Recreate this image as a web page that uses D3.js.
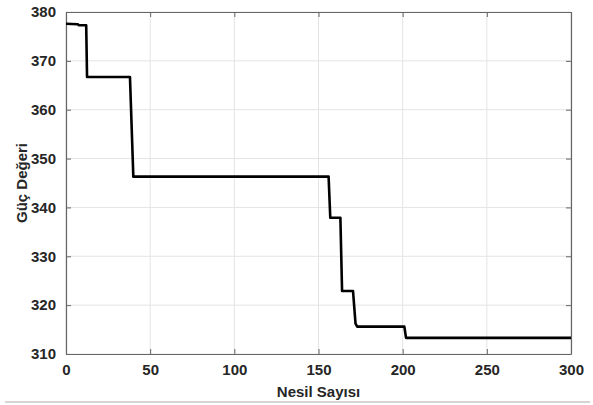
<html lang="tr">
<head>
    <meta charset="UTF-8">
    <script src="https://d3js.org/d3.v7.min.js"></script>
    <style>
        body { margin: 0; background: #fff; }
    </style>
</head>
<body>
    <script type="text/javascript">

        // step curve corners
        let nesil = [0, 7, 7.5, 12, 12.5, 38, 40, 156, 157, 163, 164, 170.5, 172, 173, 201, 202, 300];
        let guc = [377.6, 377.5, 377.3, 377.3, 366.7, 366.7, 346.3, 346.3, 337.9, 337.9, 322.9, 322.9, 316.2, 315.6, 315.6, 313.3, 313.3];

        let xTicks = [0, 50, 100, 150, 200, 250, 300];
        let yTicks = [310, 320, 330, 340, 350, 360, 370, 380];

        let width = 593;
        let height = 405;
        let mLeft = 66, mRight = 571, mTop = 12, mBottom = 354;

        let svg = d3.select('body')
            .append('svg')
            .attr('width', width)
            .attr('height', height);

        let x = d3.scaleLinear().domain([0, 300]).range([mLeft, mRight]);
        let y = d3.scaleLinear().domain([310, 380]).range([mBottom, mTop]);

        // grid
        svg.append('g')
            .selectAll('line')
            .data(xTicks)
            .join('line')
            .attr('x1', d => x(d)).attr('x2', d => x(d))
            .attr('y1', mTop).attr('y2', mBottom)
            .attr('stroke', '#e4e4e4');

        svg.append('g')
            .selectAll('line')
            .data(yTicks)
            .join('line')
            .attr('x1', mLeft).attr('x2', mRight)
            .attr('y1', d => y(d)).attr('y2', d => y(d))
            .attr('stroke', '#e4e4e4');

        // axes, ticks inside
        let axisColor = '#666';
        let xb = svg.append('g')
            .attr('transform', `translate(0,${mBottom})`)
            .call(d3.axisBottom(x).tickValues(xTicks).tickSizeInner(-5).tickSizeOuter(0).tickPadding(10));
        let xt = svg.append('g')
            .attr('transform', `translate(0,${mTop})`)
            .call(d3.axisTop(x).tickValues(xTicks).tickSizeInner(-5).tickSizeOuter(0).tickFormat(''));
        let yl = svg.append('g')
            .attr('transform', `translate(${mLeft},0)`)
            .call(d3.axisLeft(y).tickValues(yTicks).tickSizeInner(-5).tickSizeOuter(0).tickPadding(10));
        let yr = svg.append('g')
            .attr('transform', `translate(${mRight},0)`)
            .call(d3.axisRight(y).tickValues(yTicks).tickSizeInner(-5).tickSizeOuter(0).tickFormat(''));

        [xb, xt, yl, yr].forEach(g => {
            g.select('.domain').attr('stroke', axisColor).attr('stroke-width', 1.2);
            g.selectAll('.tick line').attr('stroke', axisColor);
            g.selectAll('text')
                .attr('font-family', '"Liberation Sans", Arial, sans-serif')
                .attr('font-weight', 'bold')
                .attr('font-size', 15)
                .attr('fill', '#262626');
        });

        // curve
        let points = nesil.map((n, i) => [n, guc[i]]);
        svg.append('path')
            .datum(points)
            .attr('fill', 'none')
            .attr('stroke', '#000')
            .attr('stroke-width', 2.6)
            .attr('stroke-linejoin', 'round')
            .attr('d', d3.line().x(d => x(d[0])).y(d => y(d[1])));

        // axis titles
        svg.append('text')
            .attr('x', (mLeft + mRight) / 2)
            .attr('y', 397)
            .attr('text-anchor', 'middle')
            .attr('font-family', '"Liberation Sans", Arial, sans-serif')
            .attr('font-weight', 'bold')
            .attr('font-size', 15)
            .attr('fill', '#262626')
            .text('Nesil Sayısı');

        svg.append('text')
            .attr('transform', `translate(27,${(mTop + mBottom) / 2}) rotate(-90)`)
            .attr('text-anchor', 'middle')
            .attr('font-family', '"Liberation Sans", Arial, sans-serif')
            .attr('font-weight', 'bold')
            .attr('font-size', 15)
            .attr('fill', '#262626')
            .text('Güç Değeri');

        // thin rule under the figure
        svg.append('line')
            .attr('x1', 5).attr('x2', 590)
            .attr('y1', 402).attr('y2', 402)
            .attr('stroke', '#aaa');
    </script>
</body>
</html>
